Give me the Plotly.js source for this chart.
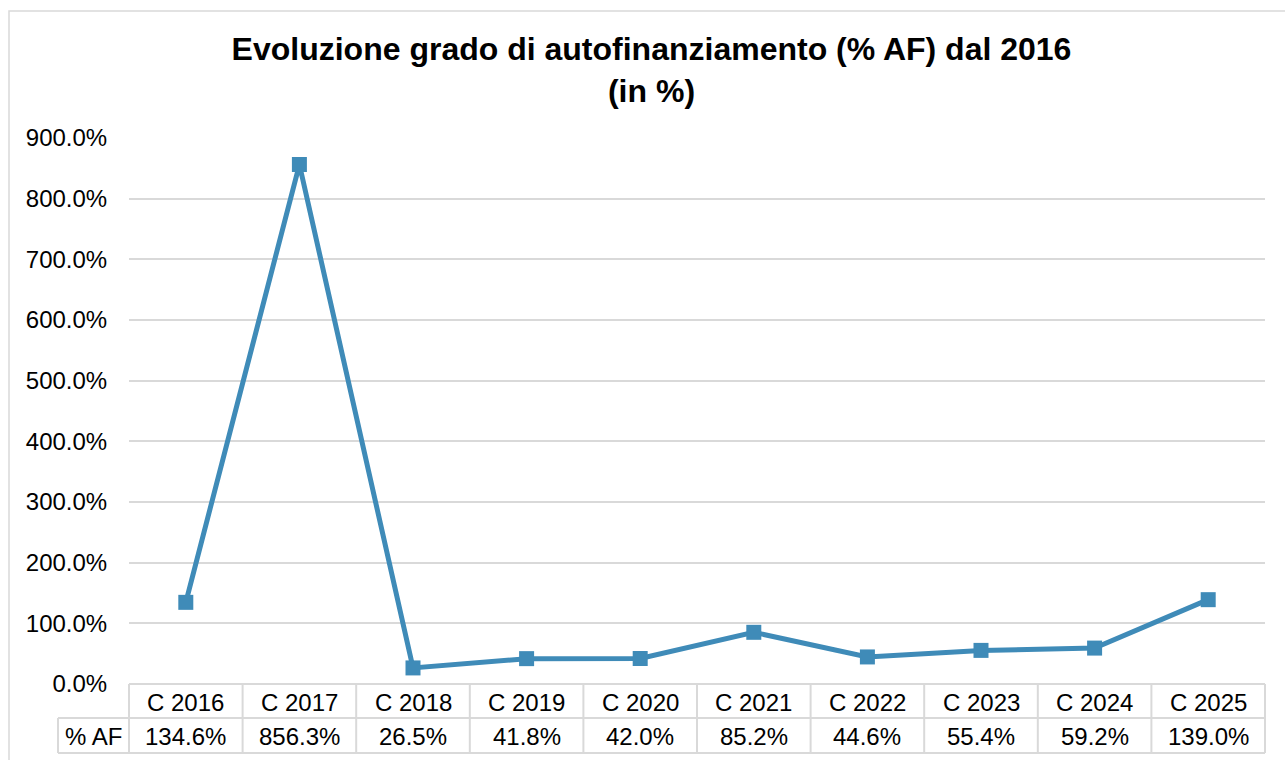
<!DOCTYPE html>
<html>
<head>
<meta charset="utf-8">
<script src="https://cdn.plot.ly/plotly-3.0.1.min.js"></script>
<style>html,body{margin:0;padding:0;background:#fff;}#chart{width:1285px;height:760px;}</style>
</head>
<body>
<div id="chart"></div>
<script>
const categories = ["C 2016","C 2017","C 2018","C 2019","C 2020","C 2021","C 2022","C 2023","C 2024","C 2025"];
const seriesName = "% AF";
const afValues = [134.6, 856.3, 26.5, 41.8, 42.0, 85.2, 44.6, 55.4, 59.2, 139.0];
const yTickValues = [0,100,200,300,400,500,600,700,800,900];

const W = 1285, H = 760;
const M = {l:129, r:20, t:138, b:76};
const plotW = W - M.l - M.r, plotH = H - M.t - M.b;
const px2x = p => (p - M.l) / plotW;
const py2y = p => (H - M.b - p) / plotH;

const lineColor = "#3f8bb8";
const gridColor = "#d9d9d9";
const font = "Liberation Sans, Arial, sans-serif";
const fs = 24;

const n = categories.length;
const row1Bottom = py2y(718), row2Bottom = py2y(753);
const labelLeft = px2x(58);

const shapes = [];
shapes.push({type:'rect', xref:'paper', yref:'paper', x0:px2x(9), x1:px2x(1300), y0:py2y(11), y1:py2y(780), line:{color:gridColor, width:1.5}, layer:'below'});
shapes.push({type:'line', xref:'paper', yref:'paper', x0:0, x1:1, y0:0, y1:0, line:{color:gridColor, width:2}});
shapes.push({type:'line', xref:'paper', yref:'paper', x0:labelLeft, x1:1, y0:row1Bottom, y1:row1Bottom, line:{color:gridColor, width:2}});
shapes.push({type:'line', xref:'paper', yref:'paper', x0:labelLeft, x1:1, y0:row2Bottom, y1:row2Bottom, line:{color:gridColor, width:2}});
shapes.push({type:'line', xref:'paper', yref:'paper', x0:labelLeft, x1:labelLeft, y0:row1Bottom, y1:row2Bottom, line:{color:gridColor, width:2}});
for (let i = 0; i <= n; i++) {
  const xp = i / n;
  shapes.push({type:'line', xref:'paper', yref:'paper', x0:xp, x1:xp, y0:0, y1:row2Bottom, line:{color:gridColor, width:2}});
}

const annotations = [];
const row1Mid = py2y(702), row2Mid = py2y(736);
categories.forEach((c, i) => {
  annotations.push({xref:'x', yref:'paper', x:i, y:row1Mid, text:c, showarrow:false, xanchor:'center', yanchor:'middle', font:{family:font, size:fs, color:'#000'}});
  annotations.push({xref:'x', yref:'paper', x:i, y:row2Mid, text:afValues[i].toFixed(1) + '%', showarrow:false, xanchor:'center', yanchor:'middle', font:{family:font, size:fs, color:'#000'}});
});
annotations.push({xref:'paper', yref:'paper', x:(labelLeft)/2, y:row2Mid, text:seriesName, showarrow:false, xanchor:'center', yanchor:'middle', font:{family:font, size:fs, color:'#000'}});

const trace = {
  x: categories, y: afValues, type:'scatter', mode:'lines+markers', name: seriesName,
  line:{color:lineColor, width:5},
  marker:{symbol:'square', size:15, color:lineColor},
  hoverinfo:'skip'
};

const layout = {
  width: W, height: H,
  margin: M,
  paper_bgcolor:'#fff', plot_bgcolor:'#fff',
  showlegend:false,
  title:{text:'Evoluzione grado di autofinanziamento (% AF) dal 2016<br>(in %)', x:651.5/W, xanchor:'center', xref:'container', y:(H-60)/H, yanchor:'top', yref:'container', font:{family:font, size:32, color:'#000', weight:'bold'}},
  xaxis:{type:'category', range:[-0.5, n-0.5], showticklabels:false, showgrid:false, zeroline:false, showline:false, ticks:''},
  yaxis:{range:[0,900], tickvals:yTickValues, ticktext:yTickValues.map(v => v.toFixed(1)+'%'), showgrid:true, gridcolor:gridColor, gridwidth:2, zeroline:false, showline:false, ticks:'outside', ticklen:16, tickcolor:'rgba(0,0,0,0)', tickfont:{family:font, size:fs, color:'#000'}},
  shapes: shapes,
  annotations: annotations
};

Plotly.newPlot('chart', [trace], layout, {staticPlot:true, displayModeBar:false});
</script>
</body>
</html>
